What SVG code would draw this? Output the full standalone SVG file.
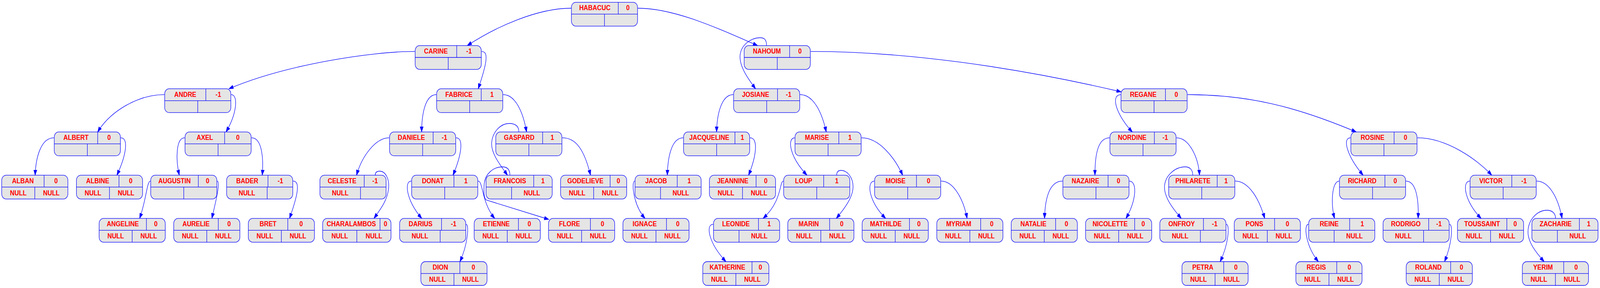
<svg xmlns="http://www.w3.org/2000/svg" width="4644" height="737" viewBox="0 0 4644 737" preserveAspectRatio="none">
<style>
svg{width:100vw;height:100vh}
.b{fill:#e5e5e5;stroke:#0000ff;stroke-width:1.33}
.d{fill:none;stroke:#0000ff;stroke-width:1.33}
text{font-family:"Liberation Sans",Arial,Helvetica,sans-serif;font-weight:bold;font-size:18px;fill:#ff0000;text-anchor:middle}
.e{fill:none;stroke:#0000ff;stroke-width:1.33;marker-end:url(#ah)}
</style>
<defs>
<marker id="ah" viewBox="0 0 14 10" refX="13.5" refY="5" markerWidth="14" markerHeight="10" markerUnits="userSpaceOnUse" orient="auto"><path d="M0,0.3 L13.5,5 L0,9.7z" fill="#0000ff" stroke="#0000ff" stroke-width="1"/></marker>
</defs>
<rect width="4644" height="737" fill="#ffffff"/>
<g id="nodes">
<g id="HABACUC" transform="translate(1658.5,5.8)"><rect class="b" width="192" height="61" rx="13"/><path class="d" d="M0,30.4H192M136,0V30.4M96,30.4V61"/><text x="68" y="20.6">HABACUC</text><text x="164" y="20.6">0</text></g>
<g id="CARINE" transform="translate(1205,116.6)"><rect class="b" width="192" height="61" rx="13"/><path class="d" d="M0,30.4H192M120.6,0V30.4M96,30.4V61"/><text x="60.3" y="20.6">CARINE</text><text x="156.3" y="20.6">-1</text></g>
<g id="NAHOUM" transform="translate(2160,116.6)"><rect class="b" width="192" height="61" rx="13"/><path class="d" d="M0,30.4H192M131.9,0V30.4M96,30.4V61"/><text x="66" y="20.6">NAHOUM</text><text x="162" y="20.6">0</text></g>
<g id="ANDRE" transform="translate(478,227.2)"><rect class="b" width="192" height="61" rx="13"/><path class="d" d="M0,30.4H192M119.4,0V30.4M96,30.4V61"/><text x="59.7" y="20.6">ANDRE</text><text x="155.7" y="20.6">-1</text></g>
<g id="FABRICE" transform="translate(1267.3,227.2)"><rect class="b" width="192" height="61" rx="13"/><path class="d" d="M0,30.4H192M129.5,0V30.4M96,30.4V61"/><text x="64.75" y="20.6">FABRICE</text><text x="160.75" y="20.6">1</text></g>
<g id="JOSIANE" transform="translate(2129.3,227.2)"><rect class="b" width="192" height="61" rx="13"/><path class="d" d="M0,30.4H192M127.5,0V30.4M96,30.4V61"/><text x="63.75" y="20.6">JOSIANE</text><text x="159.75" y="20.6">-1</text></g>
<g id="REGANE" transform="translate(3253.7,227.2)"><rect class="b" width="192" height="61" rx="13"/><path class="d" d="M0,30.4H192M129,0V30.4M96,30.4V61"/><text x="64.5" y="20.6">REGANE</text><text x="160.5" y="20.6">0</text></g>
<g id="ALBERT" transform="translate(157.5,337.7)"><rect class="b" width="192" height="61" rx="13"/><path class="d" d="M0,30.4H192M126,0V30.4M96,30.4V61"/><text x="63" y="20.6">ALBERT</text><text x="159" y="20.6">0</text></g>
<g id="AXEL" transform="translate(537,337.7)"><rect class="b" width="192" height="61" rx="13"/><path class="d" d="M0,30.4H192M115,0V30.4M96,30.4V61"/><text x="57.5" y="20.6">AXEL</text><text x="153.5" y="20.6">0</text></g>
<g id="DANIELE" transform="translate(1130.7,337.7)"><rect class="b" width="192" height="61" rx="13"/><path class="d" d="M0,30.4H192M126.5,0V30.4M96,30.4V61"/><text x="63.25" y="20.6">DANIELE</text><text x="159.25" y="20.6">-1</text></g>
<g id="GASPARD" transform="translate(1439,337.7)"><rect class="b" width="192" height="61" rx="13"/><path class="d" d="M0,30.4H192M136,0V30.4M96,30.4V61"/><text x="68" y="20.6">GASPARD</text><text x="164" y="20.6">1</text></g>
<g id="JACQUELINE" transform="translate(1984,337.7)"><rect class="b" width="192" height="61" rx="13"/><path class="d" d="M0,30.4H192M149.2,0V30.4M96,30.4V61"/><text x="74.6" y="20.6">JACQUELINE</text><text x="170.6" y="20.6">1</text></g>
<g id="MARISE" transform="translate(2307.5,337.7)"><rect class="b" width="192" height="61" rx="13"/><path class="d" d="M0,30.4H192M127.2,0V30.4M96,30.4V61"/><text x="63.6" y="20.6">MARISE</text><text x="159.6" y="20.6">1</text></g>
<g id="NORDINE" transform="translate(3221.6,337.7)"><rect class="b" width="192" height="61" rx="13"/><path class="d" d="M0,30.4H192M129,0V30.4M96,30.4V61"/><text x="64.5" y="20.6">NORDINE</text><text x="160.5" y="20.6">-1</text></g>
<g id="ROSINE" transform="translate(3920.9,337.7)"><rect class="b" width="192" height="61" rx="13"/><path class="d" d="M0,30.4H192M125.5,0V30.4M96,30.4V61"/><text x="62.75" y="20.6">ROSINE</text><text x="158.75" y="20.6">0</text></g>
<g id="ALBAN" transform="translate(5,448.3)"><rect class="b" width="192" height="61" rx="13"/><path class="d" d="M0,30.4H192M123,0V30.4M96,30.4V61"/><text x="61.5" y="20.6">ALBAN</text><text x="157.5" y="20.6">0</text><text x="48" y="51.3">NULL</text><text x="144" y="51.3">NULL</text></g>
<g id="ALBINE" transform="translate(221.8,448.3)"><rect class="b" width="192" height="61" rx="13"/><path class="d" d="M0,30.4H192M123.5,0V30.4M96,30.4V61"/><text x="61.75" y="20.6">ALBINE</text><text x="157.75" y="20.6">0</text><text x="48" y="51.3">NULL</text><text x="144" y="51.3">NULL</text></g>
<g id="AUGUSTIN" transform="translate(437.4,448.3)"><rect class="b" width="192" height="61" rx="13"/><path class="d" d="M0,30.4H192M138.2,0V30.4M96,30.4V61"/><text x="69.1" y="20.6">AUGUSTIN</text><text x="165.1" y="20.6">0</text></g>
<g id="BADER" transform="translate(657.8,448.3)"><rect class="b" width="192" height="61" rx="13"/><path class="d" d="M0,30.4H192M120,0V30.4M117.7,30.4V61"/><text x="60" y="20.6">BADER</text><text x="156" y="20.6">-1</text><text x="58.85" y="51.3">NULL</text></g>
<g id="CELESTE" transform="translate(928.6,448.3)"><rect class="b" width="192" height="61" rx="13"/><path class="d" d="M0,30.4H192M128.6,0V30.4M117.7,30.4V61"/><text x="64.3" y="20.6">CELESTE</text><text x="160.3" y="20.6">-1</text><text x="58.85" y="51.3">NULL</text></g>
<g id="DONAT" transform="translate(1194.8,448.3)"><rect class="b" width="192" height="61" rx="13"/><path class="d" d="M0,30.4H192M122.8,0V30.4M96,30.4V61"/><text x="61.4" y="20.6">DONAT</text><text x="157.4" y="20.6">1</text></g>
<g id="FRANCOIS" transform="translate(1410.8,448.3)"><rect class="b" width="192" height="61" rx="13"/><path class="d" d="M0,30.4H192M138.4,0V30.4M74,30.4V61"/><text x="69.2" y="20.6">FRANCOIS</text><text x="165.2" y="20.6">1</text><text x="133" y="51.3">NULL</text></g>
<g id="GODELIEVE" transform="translate(1627,448.3)"><rect class="b" width="192" height="61" rx="13"/><path class="d" d="M0,30.4H192M143.9,0V30.4M96,30.4V61"/><text x="71.95" y="20.6">GODELIEVE</text><text x="167.95" y="20.6">0</text><text x="48" y="51.3">NULL</text><text x="144" y="51.3">NULL</text></g>
<g id="JACOB" transform="translate(1843.1,448.3)"><rect class="b" width="192" height="61" rx="13"/><path class="d" d="M0,30.4H192M122.6,0V30.4M74,30.4V61"/><text x="61.3" y="20.6">JACOB</text><text x="157.3" y="20.6">1</text><text x="133" y="51.3">NULL</text></g>
<g id="JEANNINE" transform="translate(2059.1,448.3)"><rect class="b" width="192" height="61" rx="13"/><path class="d" d="M0,30.4H192M135.4,0V30.4M96,30.4V61"/><text x="67.7" y="20.6">JEANNINE</text><text x="163.7" y="20.6">0</text><text x="48" y="51.3">NULL</text><text x="144" y="51.3">NULL</text></g>
<g id="LOUP" transform="translate(2274.6,448.3)"><rect class="b" width="192" height="61" rx="13"/><path class="d" d="M0,30.4H192M116.1,0V30.4M96,30.4V61"/><text x="58.05" y="20.6">LOUP</text><text x="154.05" y="20.6">1</text></g>
<g id="MOISE" transform="translate(2538.5,448.3)"><rect class="b" width="192" height="61" rx="13"/><path class="d" d="M0,30.4H192M121.6,0V30.4M96,30.4V61"/><text x="60.8" y="20.6">MOISE</text><text x="156.8" y="20.6">0</text></g>
<g id="NAZAIRE" transform="translate(3085,448.3)"><rect class="b" width="192" height="61" rx="13"/><path class="d" d="M0,30.4H192M131.2,0V30.4M96,30.4V61"/><text x="65.6" y="20.6">NAZAIRE</text><text x="161.6" y="20.6">0</text></g>
<g id="PHILARETE" transform="translate(3392.1,448.3)"><rect class="b" width="192" height="61" rx="13"/><path class="d" d="M0,30.4H192M140.9,0V30.4M96,30.4V61"/><text x="70.45" y="20.6">PHILARETE</text><text x="166.45" y="20.6">1</text></g>
<g id="RICHARD" transform="translate(3887.8,448.3)"><rect class="b" width="192" height="61" rx="13"/><path class="d" d="M0,30.4H192M132,0V30.4M96,30.4V61"/><text x="66" y="20.6">RICHARD</text><text x="162" y="20.6">0</text></g>
<g id="VICTOR" transform="translate(4266.9,448.3)"><rect class="b" width="192" height="61" rx="13"/><path class="d" d="M0,30.4H192M121.1,0V30.4M96,30.4V61"/><text x="60.55" y="20.6">VICTOR</text><text x="156.55" y="20.6">-1</text></g>
<g id="ANGELINE" transform="translate(287.7,558.9)"><rect class="b" width="192" height="61" rx="13"/><path class="d" d="M0,30.4H192M137.3,0V30.4M96,30.4V61"/><text x="68.65" y="20.6">ANGELINE</text><text x="164.65" y="20.6">0</text><text x="48" y="51.3">NULL</text><text x="144" y="51.3">NULL</text></g>
<g id="AURELIE" transform="translate(504.2,558.9)"><rect class="b" width="192" height="61" rx="13"/><path class="d" d="M0,30.4H192M129.4,0V30.4M96,30.4V61"/><text x="64.7" y="20.6">AURELIE</text><text x="160.7" y="20.6">0</text><text x="48" y="51.3">NULL</text><text x="144" y="51.3">NULL</text></g>
<g id="BRET" transform="translate(720.7,558.9)"><rect class="b" width="192" height="61" rx="13"/><path class="d" d="M0,30.4H192M114.6,0V30.4M96,30.4V61"/><text x="57.3" y="20.6">BRET</text><text x="153.3" y="20.6">0</text><text x="48" y="51.3">NULL</text><text x="144" y="51.3">NULL</text></g>
<g id="CHARALAMBOS" transform="translate(936.5,558.9)"><rect class="b" width="198.4" height="61" rx="13"/><path class="d" d="M0,30.4H198.4M166.5,0V30.4M99.2,30.4V61"/><text x="83.25" y="20.6">CHARALAMBOS</text><text x="182.45" y="20.6">0</text><text x="49.6" y="51.3">NULL</text><text x="148.8" y="51.3">NULL</text></g>
<g id="DARIUS" transform="translate(1159.9,558.9)"><rect class="b" width="192" height="61" rx="13"/><path class="d" d="M0,30.4H192M121.7,0V30.4M117.7,30.4V61"/><text x="60.85" y="20.6">DARIUS</text><text x="156.85" y="20.6">-1</text><text x="58.85" y="51.3">NULL</text></g>
<g id="ETIENNE" transform="translate(1376.3,558.9)"><rect class="b" width="192" height="61" rx="13"/><path class="d" d="M0,30.4H192M128.5,0V30.4M96,30.4V61"/><text x="64.25" y="20.6">ETIENNE</text><text x="160.25" y="20.6">0</text><text x="48" y="51.3">NULL</text><text x="144" y="51.3">NULL</text></g>
<g id="FLORE" transform="translate(1592.1,558.9)"><rect class="b" width="192" height="61" rx="13"/><path class="d" d="M0,30.4H192M121.6,0V30.4M96,30.4V61"/><text x="60.8" y="20.6">FLORE</text><text x="156.8" y="20.6">0</text><text x="48" y="51.3">NULL</text><text x="144" y="51.3">NULL</text></g>
<g id="IGNACE" transform="translate(1808,558.9)"><rect class="b" width="192" height="61" rx="13"/><path class="d" d="M0,30.4H192M126.5,0V30.4M96,30.4V61"/><text x="63.25" y="20.6">IGNACE</text><text x="159.25" y="20.6">0</text><text x="48" y="51.3">NULL</text><text x="144" y="51.3">NULL</text></g>
<g id="LEONIDE" transform="translate(2071,558.9)"><rect class="b" width="192" height="61" rx="13"/><path class="d" d="M0,30.4H192M130.4,0V30.4M74,30.4V61"/><text x="65.2" y="20.6">LEONIDE</text><text x="161.2" y="20.6">1</text><text x="133" y="51.3">NULL</text></g>
<g id="MARIN" transform="translate(2286.5,558.9)"><rect class="b" width="192" height="61" rx="13"/><path class="d" d="M0,30.4H192M121.5,0V30.4M96,30.4V61"/><text x="60.75" y="20.6">MARIN</text><text x="156.75" y="20.6">0</text><text x="48" y="51.3">NULL</text><text x="144" y="51.3">NULL</text></g>
<g id="MATHILDE" transform="translate(2502.4,558.9)"><rect class="b" width="192" height="61" rx="13"/><path class="d" d="M0,30.4H192M137.4,0V30.4M96,30.4V61"/><text x="68.7" y="20.6">MATHILDE</text><text x="164.7" y="20.6">0</text><text x="48" y="51.3">NULL</text><text x="144" y="51.3">NULL</text></g>
<g id="MYRIAM" transform="translate(2719,558.9)"><rect class="b" width="192" height="61" rx="13"/><path class="d" d="M0,30.4H192M127.4,0V30.4M96,30.4V61"/><text x="63.7" y="20.6">MYRIAM</text><text x="159.7" y="20.6">0</text><text x="48" y="51.3">NULL</text><text x="144" y="51.3">NULL</text></g>
<g id="NATALIE" transform="translate(2935,558.9)"><rect class="b" width="192" height="61" rx="13"/><path class="d" d="M0,30.4H192M129,0V30.4M96,30.4V61"/><text x="64.5" y="20.6">NATALIE</text><text x="160.5" y="20.6">0</text><text x="48" y="51.3">NULL</text><text x="144" y="51.3">NULL</text></g>
<g id="NICOLETTE" transform="translate(3150.9,558.9)"><rect class="b" width="192" height="61" rx="13"/><path class="d" d="M0,30.4H192M142.4,0V30.4M96,30.4V61"/><text x="71.2" y="20.6">NICOLETTE</text><text x="167.2" y="20.6">0</text><text x="48" y="51.3">NULL</text><text x="144" y="51.3">NULL</text></g>
<g id="ONFROY" transform="translate(3366.4,558.9)"><rect class="b" width="192" height="61" rx="13"/><path class="d" d="M0,30.4H192M126.6,0V30.4M117.7,30.4V61"/><text x="63.3" y="20.6">ONFROY</text><text x="159.3" y="20.6">-1</text><text x="58.85" y="51.3">NULL</text></g>
<g id="PONS" transform="translate(3582.4,558.9)"><rect class="b" width="192" height="61" rx="13"/><path class="d" d="M0,30.4H192M117.1,0V30.4M96,30.4V61"/><text x="58.55" y="20.6">PONS</text><text x="154.55" y="20.6">0</text><text x="48" y="51.3">NULL</text><text x="144" y="51.3">NULL</text></g>
<g id="REINE" transform="translate(3798.4,558.9)"><rect class="b" width="192" height="61" rx="13"/><path class="d" d="M0,30.4H192M119,0V30.4M74,30.4V61"/><text x="59.5" y="20.6">REINE</text><text x="155.5" y="20.6">1</text><text x="133" y="51.3">NULL</text></g>
<g id="RODRIGO" transform="translate(4014.3,558.9)"><rect class="b" width="192" height="61" rx="13"/><path class="d" d="M0,30.4H192M132.5,0V30.4M117.7,30.4V61"/><text x="66.25" y="20.6">RODRIGO</text><text x="162.25" y="20.6">-1</text><text x="58.85" y="51.3">NULL</text></g>
<g id="TOUSSAINT" transform="translate(4230.3,558.9)"><rect class="b" width="192" height="61" rx="13"/><path class="d" d="M0,30.4H192M143.3,0V30.4M96,30.4V61"/><text x="71.65" y="20.6">TOUSSAINT</text><text x="167.65" y="20.6">0</text><text x="48" y="51.3">NULL</text><text x="144" y="51.3">NULL</text></g>
<g id="ZACHARIE" transform="translate(4446.3,558.9)"><rect class="b" width="192" height="61" rx="13"/><path class="d" d="M0,30.4H192M137.9,0V30.4M74,30.4V61"/><text x="68.95" y="20.6">ZACHARIE</text><text x="164.95" y="20.6">1</text><text x="133" y="51.3">NULL</text></g>
<g id="DION" transform="translate(1221.6,669.5)"><rect class="b" width="192" height="61" rx="13"/><path class="d" d="M0,30.4H192M113.1,0V30.4M96,30.4V61"/><text x="56.55" y="20.6">DION</text><text x="152.55" y="20.6">0</text><text x="48" y="51.3">NULL</text><text x="144" y="51.3">NULL</text></g>
<g id="KATHERINE" transform="translate(2039.8,669.5)"><rect class="b" width="192" height="61" rx="13"/><path class="d" d="M0,30.4H192M142.9,0V30.4M96,30.4V61"/><text x="71.45" y="20.6">KATHERINE</text><text x="167.45" y="20.6">0</text><text x="48" y="51.3">NULL</text><text x="144" y="51.3">NULL</text></g>
<g id="PETRA" transform="translate(3430.7,669.5)"><rect class="b" width="192" height="61" rx="13"/><path class="d" d="M0,30.4H192M121.1,0V30.4M96,30.4V61"/><text x="60.55" y="20.6">PETRA</text><text x="156.55" y="20.6">0</text><text x="48" y="51.3">NULL</text><text x="144" y="51.3">NULL</text></g>
<g id="REGIS" transform="translate(3761.3,669.5)"><rect class="b" width="192" height="61" rx="13"/><path class="d" d="M0,30.4H192M118.6,0V30.4M96,30.4V61"/><text x="59.3" y="20.6">REGIS</text><text x="155.3" y="20.6">0</text><text x="48" y="51.3">NULL</text><text x="144" y="51.3">NULL</text></g>
<g id="ROLAND" transform="translate(4081.5,669.5)"><rect class="b" width="192" height="61" rx="13"/><path class="d" d="M0,30.4H192M129,0V30.4M96,30.4V61"/><text x="64.5" y="20.6">ROLAND</text><text x="160.5" y="20.6">0</text><text x="48" y="51.3">NULL</text><text x="144" y="51.3">NULL</text></g>
<g id="YERIM" transform="translate(4418.6,669.5)"><rect class="b" width="192" height="61" rx="13"/><path class="d" d="M0,30.4H192M120.1,0V30.4M96,30.4V61"/><text x="60.05" y="20.6">YERIM</text><text x="156.05" y="20.6">0</text><text x="48" y="51.3">NULL</text><text x="144" y="51.3">NULL</text></g>
</g>
<g id="edges">
<path class="e" d="M1657.7,21 C1560,21 1440,68 1356.3,116.6"/>
<path class="e" d="M1851.5,21 C1960,21 2090,75 2199,116.6"/>
<path class="e" d="M1204,131.6 C1080,131.6 830,165 664.3,227.2"/>
<path class="e" d="M1398,131.6 C1420,131.6 1412,165 1388,227.2"/>
<path class="e" d="M2225,116.6 C2225,100 2217,96 2205,96.5 C2178,97.5 2151,115 2148,142 C2146,170 2170,200 2193,227.2"/>
<path class="e" d="M2353.2,131.6 C2620,131.6 2940,170 3254.2,235"/>
<path class="e" d="M477,242.2 C400,242.2 320,285 283.5,337.7"/>
<path class="e" d="M671,242.2 C692,242.2 688,290 656,337.7"/>
<path class="e" d="M1266.3,242.2 C1235,242.2 1224,290 1223.8,337.7"/>
<path class="e" d="M1460.3,242.2 C1495,242.2 1518,285 1528.3,337.7"/>
<path class="e" d="M2128.3,242.2 C2095,242.2 2081,290 2079.9,337.7"/>
<path class="e" d="M2322.3,242.2 C2360,242.2 2385,285 2398.2,337.7"/>
<path class="e" d="M3252.7,242.2 C3220,244 3245,300 3286.8,337.7"/>
<path class="e" d="M3446.7,242.2 C3620,242.2 3760,272 3936.7,337.7"/>
<path class="e" d="M156.5,352.7 C120,352.7 104,400 102,448.3"/>
<path class="e" d="M350.5,352.7 C375,352.7 365,400 339.3,448.3"/>
<path class="e" d="M536,352.7 C510,352.7 510,410 520.4,448.3"/>
<path class="e" d="M730,352.7 C762,352.7 765,410 761.2,448.3"/>
<path class="e" d="M1129.7,352.7 C1090,352.7 1050,400 1035,448.3"/>
<path class="e" d="M1323.7,352.7 C1348,352.7 1338,400 1314.8,448.3"/>
<path class="e" d="M1506,337.7 C1506,322 1495,316 1478,316 C1455,316 1430,335 1427,365 C1425,392 1450,420 1473,448.3"/>
<path class="e" d="M1632,352.7 C1670,352.7 1695,380 1714,448.3"/>
<path class="e" d="M1983,352.7 C1950,352.7 1938,400 1937,448.3"/>
<path class="e" d="M2177,352.7 C2202,352.7 2195,400 2172.8,448.3"/>
<path class="e" d="M2306.5,352.7 C2285,353 2290,400 2342.3,448.3"/>
<path class="e" d="M2500.5,352.7 C2550,352.7 2595,400 2620,448.3"/>
<path class="e" d="M3220.6,352.7 C3185,352.7 3178,400 3178.1,448.3"/>
<path class="e" d="M3414.6,352.7 C3450,352.7 3478,400 3481.6,448.3"/>
<path class="e" d="M3919.9,352.7 C3895,353 3910,400 3956.5,448.3"/>
<path class="e" d="M4114,352.7 C4200,352.7 4290,410 4329.7,448.3"/>
<path class="e" d="M436.4,463.3 C426,465 425,510 405.3,558.9"/>
<path class="e" d="M630.4,463.3 C640,465 628,510 614.9,558.9"/>
<path class="e" d="M850.8,463.3 C875,463.3 860,510 840.3,558.9"/>
<path class="e" d="M1089,448.3 C1089,440 1095,438 1102,438 C1120,438 1130,460 1128,480 C1126,510 1105,535 1085.4,558.9"/>
<path class="e" d="M1193.8,463.3 C1172,463.3 1180,515 1224.3,558.9"/>
<path class="e" d="M1387.8,463.3 C1402,463.3 1398,520 1436,558.9"/>
<path class="e" d="M1480,448.3 C1480,432 1470,427 1458,427 C1432,427 1408,445 1405.5,470 C1403.5,492 1404,508 1412,512 L1593,561.5"/>
<path class="e" d="M1842.1,463.3 C1832,465 1838,525 1872.3,558.9"/>
<path class="e" d="M2273.6,463.3 C2262,465 2270,515 2214.8,558.9"/>
<path class="e" d="M2428.5,448.3 C2428.5,440 2433,436 2441,436 C2460,436 2476,455 2476,478 C2476,505 2450,535 2427.3,558.9"/>
<path class="e" d="M2537.5,463.3 C2515,464 2520,515 2570.7,558.9"/>
<path class="e" d="M2731.5,463.3 C2770,463.3 2798,515 2806.9,558.9"/>
<path class="e" d="M3084,463.3 C3045,463.3 3033,510 3031.8,558.9"/>
<path class="e" d="M3278,463.3 C3302,464 3298,515 3268,558.9"/>
<path class="e" d="M3462,448.3 C3462,433 3452,427 3440,427 C3410,427 3381,450 3380,478 C3379,505 3405,535 3428.7,558.9"/>
<path class="e" d="M3585.1,463.3 C3625,463.3 3655,510 3670.9,558.9"/>
<path class="e" d="M3886.8,463.3 C3866,464 3862,520 3873.5,558.9"/>
<path class="e" d="M4080.8,463.3 C4112,463.3 4118,515 4116.1,558.9"/>
<path class="e" d="M4265.9,463.3 C4243,464 4250,515 4299,558.9"/>
<path class="e" d="M4459.9,463.3 C4500,463.3 4525,515 4533.8,558.9"/>
<path class="e" d="M2070,573.9 C2048,574 2055,620 2107,669.5"/>
<path class="e" d="M1352.9,574 C1362,574.5 1358,625 1335,669.5"/>
<path class="e" d="M3559.4,574 C3570,574.5 3566,625 3541.4,669.5"/>
<path class="e" d="M3797.4,574 C3783,575 3790,630 3826.6,669.5"/>
<path class="e" d="M4207.3,574 C4218,574.5 4214,625 4192.7,669.5"/>
<path class="e" d="M4515,558.9 C4515,544 4503,538 4490,538 C4462,538 4436,562 4435,592 C4434,620 4460,648 4481.9,669.5"/>
</g>
</svg>
